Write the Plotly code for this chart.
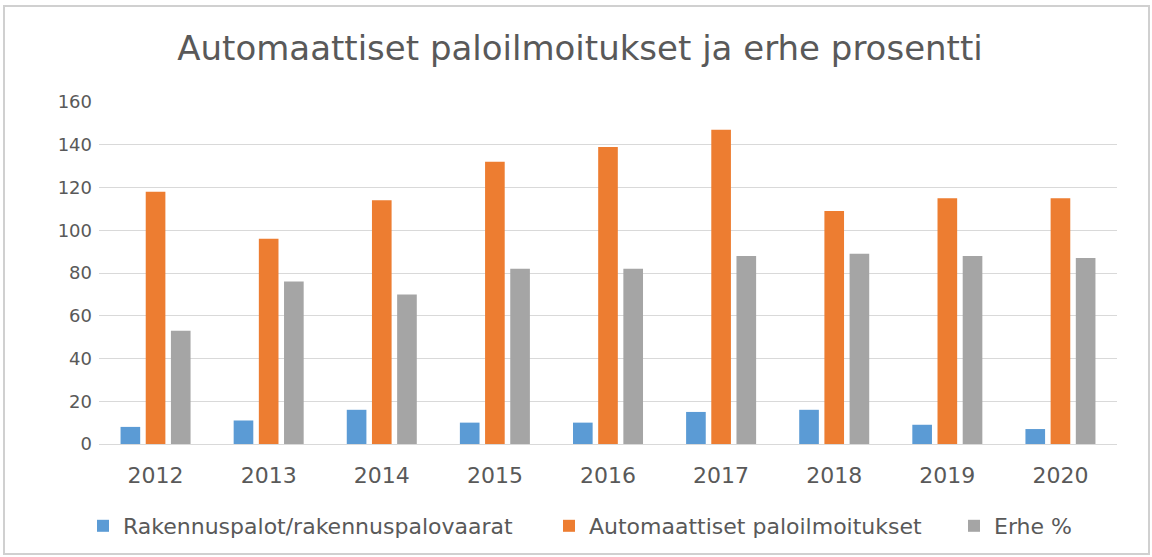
import plotly.graph_objects as go

years = ["2012", "2013", "2014", "2015", "2016", "2017", "2018", "2019", "2020"]
rakennuspalot = [8, 11, 16, 10, 10, 15, 16, 9, 7]
automaattiset = [118, 96, 114, 132, 139, 147, 109, 115, 115]
erhe = [53, 76, 70, 82, 82, 88, 89, 88, 87]

series_names = ["Rakennuspalot/rakennuspalovaarat", "Automaattiset paloilmoitukset", "Erhe %"]
colors = ["#5B9BD5", "#ED7D31", "#A5A5A5"]
title_text = "Automaattiset paloilmoitukset ja erhe prosentti"
y_ticks = [0, 20, 40, 60, 80, 100, 120, 140, 160]

W, H = 1152, 557
L, R, T, B = 99, 35, 102, 113
pw, ph = W - L - R, H - T - B

def px_x(p):
    return (p - L) / pw

def px_y(p):
    return (H - B - p) / ph

FONT = "DejaVu Sans"
TXT = "#595959"

fig = go.Figure()
legend_ids = ["legend", "legend2", "legend3"]
for name, vals, col, lg in zip(series_names, [rakennuspalot, automaattiset, erhe], colors, legend_ids):
    fig.add_trace(go.Bar(x=years, y=vals, name=name, marker=dict(color=col, line=dict(width=0)),
                         legend=lg, showlegend=True))

leg_common = dict(orientation="h", yanchor="middle", xanchor="left", bgcolor="rgba(0,0,0,0)",
                  xref="container", yref="container",
                  font=dict(family=FONT, size=22, color=TXT))
legend_text_starts = [123, 589, 994]
leg_y = 1 - 526 / H

fig.update_layout(
    width=W, height=H,
    margin=dict(l=L, r=R, t=T, b=B, pad=0),
    paper_bgcolor="white", plot_bgcolor="white",
    barmode="group", bargap=0.332, bargroupgap=0.22,
    showlegend=True,
    title=dict(text=title_text, x=580 / W, xanchor="center", xref="container",
               y=1 - 48 / H, yanchor="middle",
               font=dict(family=FONT, size=34, color=TXT)),
    font=dict(family=FONT, color=TXT),
    legend=dict(x=(legend_text_starts[0] - 40) / W, y=leg_y, **leg_common),
    legend2=dict(x=(legend_text_starts[1] - 40) / W, y=leg_y, **leg_common),
    legend3=dict(x=(legend_text_starts[2] - 40) / W, y=leg_y, **leg_common),
    xaxis=dict(showline=True, linecolor="#D9D9D9", linewidth=1, ticks="",
               showgrid=False, tickfont=dict(family=FONT, size=22, color=TXT),
               ticklabelstandoff=12),
    yaxis=dict(range=[0, 160], tickvals=y_ticks, showgrid=True, gridcolor="#D9D9D9",
               gridwidth=1, zeroline=False, showline=False, ticks="",
               tickfont=dict(family=FONT, size=18, color=TXT), ticklabelstandoff=6),
    shapes=[dict(type="rect", xref="paper", yref="paper",
                 x0=px_x(4), x1=px_x(1149), y0=px_y(554), y1=px_y(6),
                 line=dict(color="#D0D0D0", width=2), layer="below")],
)

fig.write_html("out.html", config={"displayModeBar": False},
               post_script="document.body.style.margin='0';document.body.style.padding='0';")
